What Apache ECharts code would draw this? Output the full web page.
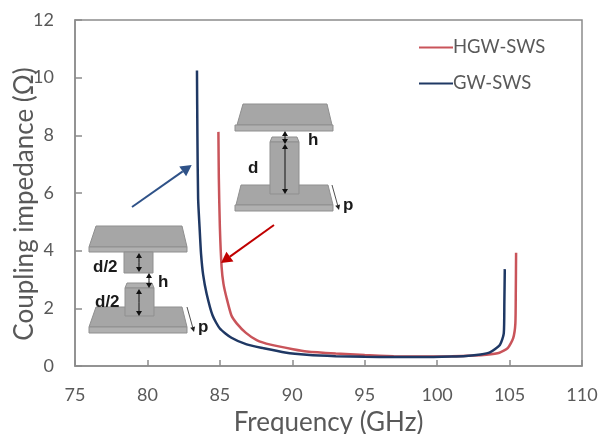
<!DOCTYPE html>
<html><head><meta charset="utf-8">
<script src="https://cdn.jsdelivr.net/npm/echarts@6/dist/echarts.min.js"></script>
<style>html,body{margin:0;background:#fff}#c{width:600px;height:434px}</style></head>
<body><div id="c"></div>
<script>
const hgwSws = [[84.9,8.12],[84.93,6.5],[85.0,4.83],[85.12,3.44],[85.25,2.85],[85.47,2.35],[85.8,1.75],[86.16,1.48],[86.8,1.15],[87.54,0.9],[88.5,0.74],[90.05,0.58],[91,0.5],[93,0.43],[95,0.38],[97,0.34],[99,0.33],[101,0.34],[102.5,0.36],[103.4,0.39],[104.3,0.46],[104.87,0.62],[105.25,0.97],[105.4,1.48],[105.43,2.6],[105.45,3.93]];
const gwSws = [[83.42,10.25],[83.45,8],[83.5,5.8],[83.6,4.8],[83.7,3.9],[83.85,3.15],[84.09,2.5],[84.5,1.75],[85,1.3],[85.8,0.98],[86.85,0.75],[88,0.62],[89.5,0.47],[91,0.39],[93,0.34],[95,0.32],[97,0.31],[99,0.31],[101,0.33],[102,0.35],[103,0.4],[103.64,0.47],[104.33,0.73],[104.6,1.13],[104.64,2.2],[104.67,3.36]];
const xTicks = [75,110,5];
const yTicks = [0,12,2];
const FONT = 'Lato, "Open Sans", sans-serif', TXT = '#595959', AX = '#8c8c8c';
const G1 = '#a6a6a6', G2 = '#8f8f8f';
const chart = echarts.init(document.getElementById('c'));
function poly(points, fill, stroke, z){return {type:'polygon',z:z||10,shape:{points},style:{fill,stroke:stroke||G2,lineWidth:1}};}
function rect(x,y,w,h,fill,z){return {type:'rect',z:z||10,shape:{x,y,width:w,height:h},style:{fill:fill||G1,stroke:G2,lineWidth:1}};}
function arrow(x1,y1,x2,y2,color,w,hl,hw){
  const a=Math.atan2(y2-y1,x2-x1),c=Math.cos(a),s=Math.sin(a),bx=x2-c*hl,by=y2-s*hl;
  return [{type:'line',z:12,shape:{x1,y1,x2:bx,y2:by},style:{stroke:color,lineWidth:w}},
  {type:'polygon',z:12,shape:{points:[[x2,y2],[bx-s*hw,by+c*hw],[bx+s*hw,by-c*hw]]},style:{fill:color}}];
}
function dbl(x,y1,y2){return [...arrow(x,(y1+y2)/2,x,y1,'#111',1,5,3),...arrow(x,(y1+y2)/2,x,y2,'#111',1,5,3)];}
function label(x,y,t){return {type:'text',z:13,x,y,style:{text:t,font:'bold 17px "Liberation Sans", Arial',fill:'#1a1a1a',textVerticalAlign:'middle'}};}
const graphic = [
  poly([[237,125],[243,104],[327,104],[332,125]],G1), rect(235,125,98,6,'#b0b0b0'),
  poly([[272,137],[297,137],[299,142],[270,142]],'#b0b0b0'), rect(270,142,29,52,G1,11),
  poly([[236,205],[241,185],[328,185],[333,205]],G1), rect(235,205,98,6,'#b0b0b0'),
  ...dbl(285,131,144), ...dbl(285,144,194),
  ...arrow(332,185,339,210,'#222',0.8,5,2.5),
  label(248,168,'d'), label(308,140,'h'), label(343,205,'p'),
  poly([[89,247],[96,226],[182,226],[187,247]],G1), rect(89,247,98,5,'#b0b0b0'), rect(124,252,29,21,G1),
  poly([[127,283],[152,283],[154,288],[125,288]],'#b0b0b0'),
  poly([[89,327],[96,307],[182,307],[187,327]],G1), rect(89,327,98,6,'#b0b0b0'), rect(125,288,29,28,G1,11),
  ...dbl(139,253,272), ...dbl(149,273,288), ...dbl(139,289,316),
  ...arrow(187,307,194,332,'#222',0.8,5,2.5),
  label(93,267,'d/2'), label(158,282,'h'), label(95,302,'d/2'), label(198,327,'p'),
  ...arrow(132,207,191.7,165,'#2f5288',2,11,6),
  ...arrow(274,225,221,263,'#c00000',2,11,6)
];
chart.setOption({
  animation:false,
  backgroundColor:'#fff',
  grid:{left:75,top:20,width:507,height:346,show:true,outerBoundsMode:'none',borderColor:AX,borderWidth:1.5,backgroundColor:'transparent'},
  xAxis:{type:'value',min:xTicks[0],max:xTicks[1],interval:xTicks[2],
    name:'Frequency (GHz)',nameLocation:'middle',nameGap:44,nameMoveOverlap:false,
    nameTextStyle:{fontFamily:FONT,fontSize:26,color:TXT},
    axisLine:{lineStyle:{color:AX,width:1.5}},axisTick:{inside:true,length:6,lineStyle:{color:AX,width:1.5}},
    axisLabel:{fontFamily:FONT,fontSize:18,color:TXT,margin:20},splitLine:{show:false}},
  yAxis:{type:'value',min:yTicks[0],max:yTicks[1],interval:yTicks[2],
    name:'Coupling impedance (Ω)',nameLocation:'middle',nameGap:37,nameMoveOverlap:false,
    nameTextStyle:{fontFamily:FONT,fontSize:26,color:TXT,padding:[0,22,0,0]},
    axisLine:{lineStyle:{color:AX,width:1.5}},axisTick:{inside:true,length:7,lineStyle:{color:AX,width:1.5}},
    axisLabel:{fontFamily:FONT,fontSize:18,color:TXT,margin:21},splitLine:{show:false}},
  legend:{orient:'vertical',left:414,top:33,itemWidth:34,itemHeight:2,itemGap:17,icon:'rect',
    textStyle:{fontFamily:FONT,fontSize:18.5,color:TXT,padding:[0,0,0,-5]},
    data:['HGW-SWS','GW-SWS']},
  series:[
    {name:'HGW-SWS',type:'line',data:hgwSws,smooth:0.2,showSymbol:false,lineStyle:{color:'#c9545a',width:2.5},itemStyle:{color:'#c9545a'}},
    {name:'GW-SWS',type:'line',data:gwSws,smooth:0.2,showSymbol:false,lineStyle:{color:'#1f3864',width:2.5},itemStyle:{color:'#1f3864'}}
  ],
  graphic
});
</script></body></html>
